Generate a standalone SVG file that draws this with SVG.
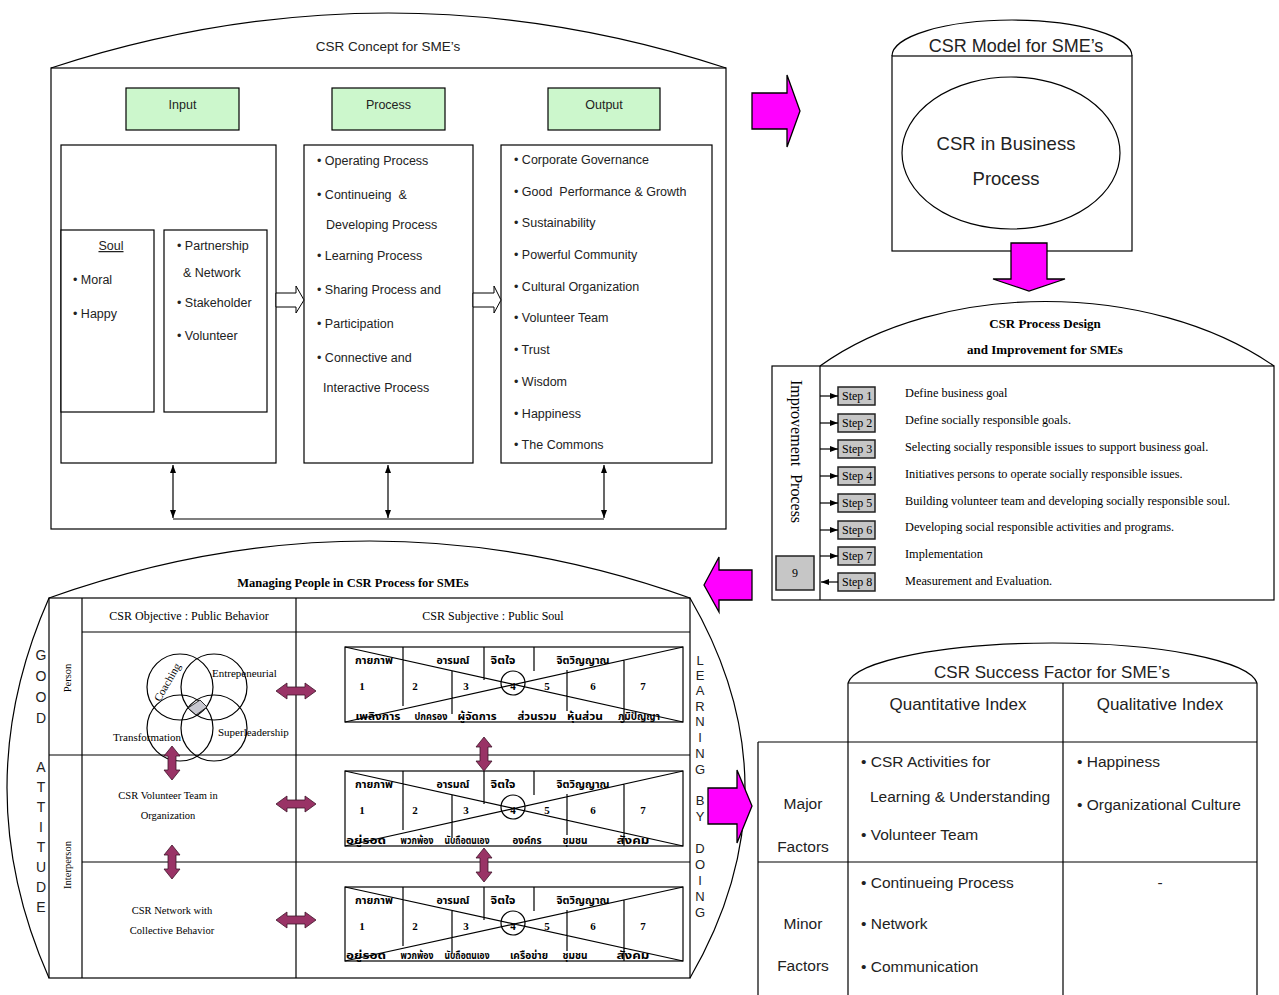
<svg xmlns="http://www.w3.org/2000/svg" width="1279" height="995" viewBox="0 0 1279 995">
<style>
.ln{fill:none;stroke:#000;stroke-width:1.2}
.bx{fill:#fff;stroke:#000;stroke-width:1.2}
.gr{fill:#ccf7cc;stroke:#000;stroke-width:1.2}
.sa{font-family:"Liberation Sans",Arial,sans-serif;fill:#222;white-space:pre}
.se{font-family:"Liberation Serif","Times New Roman",serif;fill:#000;white-space:pre}
.sb{font-family:"Liberation Serif","Times New Roman",serif;font-weight:bold;fill:#000}
.th{font-family:"Noto Sans Thai","Noto Serif Thai","Loma","Garuda","Liberation Serif",serif;font-weight:bold;font-size:11px;fill:#000;text-anchor:middle}
.tn{font-family:"Noto Sans Thai","Noto Serif Thai","Loma","Garuda","Liberation Serif",serif;font-weight:bold;font-size:10.5px;fill:#000;text-anchor:middle}
.nm{font-family:"Liberation Serif","Times New Roman",serif;font-weight:bold;font-size:11px;text-anchor:middle}
.pink{fill:#ff00ff;stroke:#000;stroke-width:1.3}
.pur{fill:#993366;stroke:#3d1428;stroke-width:0.8}
.step{fill:#c6c6c6;stroke:#222;stroke-width:1.5}
.mid{text-anchor:middle}
</style>
<defs>
<marker id="ah" viewBox="0 0 8 6" refX="8" refY="3" markerWidth="8" markerHeight="6" markerUnits="userSpaceOnUse" orient="auto-start-reverse"><path d="M0,0 L8,3 L0,6 Z" fill="#000"/></marker>
<path id="dblh" d="M-20,0 L-9,-8 L-9,-4 L9,-4 L9,-8 L20,0 L9,8 L9,4 L-9,4 L-9,8 Z"/>
<path id="dblv" d="M0,-17 L-8,-7 L-4,-7 L-4,7 L-8,7 L0,17 L8,7 L4,7 L4,-7 L8,-7 Z"/>
</defs>
<rect x="0" y="0" width="1279" height="995" fill="#fff"/>

<!-- CSR Concept panel -->
<g id="csr-concept">
<path class="ln" d="M51,68 Q388,-42 726,68"/>
<rect class="ln" x="51" y="68" width="675" height="461"/>
<text class="sa mid" x="388" y="51" font-size="13.5">CSR Concept for SME’s</text>
</g>
<g id="input-head"><rect class="gr" x="126" y="88" width="113" height="42"/><text class="sa mid" x="182.5" y="109" font-size="12.5">Input</text></g>
<g id="process-head"><rect class="gr" x="332" y="88" width="113" height="42"/><text class="sa mid" x="388.5" y="109" font-size="12.5">Process</text></g>
<g id="output-head"><rect class="gr" x="548" y="88" width="112" height="42"/><text class="sa mid" x="604" y="109" font-size="12.5">Output</text></g>
<g id="input-box">
<rect class="bx" x="61" y="145" width="215" height="318"/>
<rect class="bx" x="61" y="230" width="93" height="182"/>
<rect class="bx" x="164" y="230" width="103" height="182"/>
<text class="sa mid" x="111" y="250" font-size="12.5" text-decoration="underline">Soul</text>
<text class="sa" x="73" y="284" font-size="12.5">• Moral</text>
<text class="sa" x="73" y="318" font-size="12.5">• Happy</text>
<text class="sa" x="177" y="250" font-size="12.5">• Partnership</text>
<text class="sa" x="183" y="277" font-size="12.5">&amp; Network</text>
<text class="sa" x="177" y="307" font-size="12.5">• Stakeholder</text>
<text class="sa" x="177" y="340" font-size="12.5">• Volunteer</text>
</g>
<g id="process-box">
<rect class="bx" x="304" y="145" width="169" height="318"/>
<text class="sa" x="317" y="165" font-size="12.5">• Operating Process</text>
<text class="sa" x="317" y="199" font-size="12.5">• Continueing  &amp;</text>
<text class="sa" x="326" y="229" font-size="12.5">Developing Process</text>
<text class="sa" x="317" y="260" font-size="12.5">• Learning Process</text>
<text class="sa" x="317" y="294" font-size="12.5">• Sharing Process and</text>
<text class="sa" x="317" y="328" font-size="12.5">• Participation</text>
<text class="sa" x="317" y="362" font-size="12.5">• Connective and</text>
<text class="sa" x="323" y="392" font-size="12.5">Interactive Process</text>
</g>
<g id="output-box">
<rect class="bx" x="501" y="145" width="211" height="318"/>
<text class="sa" x="514" y="164" font-size="12.5">• Corporate Governance</text>
<text class="sa" x="514" y="196" font-size="12.5">• Good  Performance &amp; Growth</text>
<text class="sa" x="514" y="227" font-size="12.5">• Sustainability</text>
<text class="sa" x="514" y="259" font-size="12.5">• Powerful Community</text>
<text class="sa" x="514" y="291" font-size="12.5">• Cultural Organization</text>
<text class="sa" x="514" y="322" font-size="12.5">• Volunteer Team</text>
<text class="sa" x="514" y="354" font-size="12.5">• Trust</text>
<text class="sa" x="514" y="386" font-size="12.5">• Wisdom</text>
<text class="sa" x="514" y="418" font-size="12.5">• Happiness</text>
<text class="sa" x="514" y="449" font-size="12.5">• The Commons</text>
</g>

<!-- CSR Model -->
<g id="csr-model">
<path class="ln" d="M892,56 A120,36 0 0 1 1132,56"/>
<rect class="ln" x="892" y="56" width="240" height="195"/>
<text class="sa mid" x="1016" y="52" font-size="18">CSR Model for SME’s</text>
<ellipse class="ln" cx="1011" cy="153" rx="109" ry="76"/>
<text class="sa mid" x="1006" y="150" font-size="18.5" fill="#000">CSR in Business</text>
<text class="sa mid" x="1006" y="185" font-size="18.5" fill="#000">Process</text>
</g>

<!-- CSR Process Design -->
<g id="process-design">
<path class="ln" d="M820,366 C940,280 1150,280 1274,366"/>
<rect class="ln" x="772" y="366" width="502" height="234"/>
<line class="ln" x1="820" y1="366" x2="820" y2="600"/>
<text class="sb mid" x="1045" y="328" font-size="13">CSR Process Design</text>
<text class="sb mid" x="1045" y="354" font-size="13">and Improvement for SMEs</text>
<text class="se" transform="translate(791,380) rotate(90)" font-size="16">Improvement  Process</text>
<rect class="step" x="776" y="556" width="38" height="34"/>
<text class="se mid" x="795" y="577" font-size="12">9</text>
</g>
<g id="step1"><rect class="step" x="838" y="387" width="37" height="18"/><text class="se" x="842" y="400" font-size="12">Step 1</text><text class="se" x="905" y="397" font-size="12.3">Define business goal</text></g>
<g id="step2"><rect class="step" x="838" y="414" width="37" height="18"/><text class="se" x="842" y="427" font-size="12">Step 2</text><text class="se" x="905" y="424" font-size="12.3">Define socially responsible goals.</text></g>
<g id="step3"><rect class="step" x="838" y="440" width="37" height="18"/><text class="se" x="842" y="453" font-size="12">Step 3</text><text class="se" x="905" y="451" font-size="12.3">Selecting socially responsible issues to support business goal.</text></g>
<g id="step4"><rect class="step" x="838" y="467" width="37" height="18"/><text class="se" x="842" y="480" font-size="12">Step 4</text><text class="se" x="905" y="478" font-size="12.3">Initiatives persons to operate socially responsible issues.</text></g>
<g id="step5"><rect class="step" x="838" y="494" width="37" height="18"/><text class="se" x="842" y="507" font-size="12">Step 5</text><text class="se" x="905" y="505" font-size="12.3">Building volunteer team and developing socially responsible soul.</text></g>
<g id="step6"><rect class="step" x="838" y="521" width="37" height="18"/><text class="se" x="842" y="534" font-size="12">Step 6</text><text class="se" x="905" y="531" font-size="12.3">Developing social responsible activities and programs.</text></g>
<g id="step7"><rect class="step" x="838" y="547" width="37" height="18"/><text class="se" x="842" y="560" font-size="12">Step 7</text><text class="se" x="905" y="558" font-size="12.3">Implementation</text></g>
<g id="step8"><rect class="step" x="838" y="573" width="37" height="18"/><text class="se" x="842" y="586" font-size="12">Step 8</text><text class="se" x="905" y="585" font-size="12.3">Measurement and Evaluation.</text></g>

<!-- Managing People -->
<g id="managing-people">
<path class="ln" d="M49,598 Q370,484 690,598"/>
<path class="ln" d="M49,598 Q-35,788 49,978"/>
<path class="ln" d="M690,598 Q800,788 690,978"/>
<rect class="ln" x="49" y="598" width="641" height="380"/>
<line class="ln" x1="82" y1="598" x2="82" y2="978"/>
<line class="ln" x1="296" y1="598" x2="296" y2="978"/>
<line class="ln" x1="82" y1="632" x2="690" y2="632"/>
<line class="ln" x1="49" y1="755" x2="690" y2="755"/>
<line class="ln" x1="82" y1="862" x2="690" y2="862"/>
<text class="sb mid" x="353" y="587" font-size="12.5">Managing People in CSR Process for SMEs</text>
<text class="se mid" x="189" y="620" font-size="12">CSR Objective : Public Behavior</text>
<text class="se mid" x="493" y="620" font-size="12">CSR Subjective : Public Soul</text>
<text class="se mid" transform="translate(71,678) rotate(-90)" font-size="10.5">Person</text>
<text class="se mid" transform="translate(71,865) rotate(-90)" font-size="10.5">Interperson</text>
<g class="sa mid" font-size="14" fill="#444">
<text x="41" y="660">G</text><text x="41" y="681">O</text><text x="41" y="702">O</text><text x="41" y="723">D</text>
<text x="41" y="772">A</text><text x="41" y="792">T</text><text x="41" y="812">T</text><text x="41" y="832">I</text><text x="41" y="852">T</text><text x="41" y="872">U</text><text x="41" y="892">D</text><text x="41" y="912">E</text>
</g>
<g class="sa mid" font-size="13" fill="#444">
<text x="700" y="665">L</text><text x="700" y="680">E</text><text x="700" y="695">A</text><text x="700" y="711">R</text><text x="700" y="726">N</text><text x="700" y="742">I</text><text x="700" y="758">N</text><text x="700" y="774">G</text>
<text x="700" y="805">B</text><text x="700" y="821">Y</text>
<text x="700" y="853">D</text><text x="700" y="869">O</text><text x="700" y="885">I</text><text x="700" y="901">N</text><text x="700" y="917">G</text>
</g>
</g>
<g id="venn">
<circle class="ln" cx="180" cy="687" r="33"/>
<circle class="ln" cx="214" cy="687" r="33"/>
<circle class="ln" cx="180" cy="728" r="33"/>
<circle class="ln" cx="214" cy="728" r="33"/>
<polygon points="188,708 200,700 207,707 196,715" fill="#c8c8d0" stroke="#000" stroke-width="0.8"/>
<text class="se" x="212" y="677" font-size="11">Entrepeneurial</text>
<text class="se" x="218" y="736" font-size="11">Superleadership</text>
<text class="se" x="113" y="741" font-size="11">Transformation</text>
<text class="se mid" transform="translate(167,682) rotate(-60)" y="4" font-size="11">Coaching</text>
</g>
<g id="volunteer-team">
<text class="se mid" x="168" y="799" font-size="10.5">CSR Volunteer Team in</text>
<text class="se mid" x="168" y="819" font-size="10.5">Organization</text>
</g>
<g id="network">
<text class="se mid" x="172" y="914" font-size="10.5">CSR Network with</text>
<text class="se mid" x="172" y="934" font-size="10.5">Collective Behavior</text>
</g>

<g id="table1" transform="translate(345,647)">
<rect class="ln" x="0" y="0" width="338" height="75"/>
<path class="ln" d="M0,0 L338,75 M0,75 L338,0 M58,0 V59 M107,24 V67 M139,0 V33 M189,0 V24 M222,23 V64 M279,13 V75"/>
<circle class="ln" cx="168" cy="36" r="12"/>
<text class="th" x="29" y="17" textLength="38" lengthAdjust="spacingAndGlyphs">กายภาพ</text><text class="th" x="108" y="17" textLength="33" lengthAdjust="spacingAndGlyphs">อารมณ์</text><text class="th" x="158" y="17" textLength="25" lengthAdjust="spacingAndGlyphs">จิตใจ</text><text class="th" x="238" y="17" textLength="53" lengthAdjust="spacingAndGlyphs">จิตวิญญาณ</text>
<text class="nm" x="17" y="43">1</text><text class="nm" x="70" y="43">2</text><text class="nm" x="121" y="43">3</text><text class="nm" x="168" y="43">4</text><text class="nm" x="202" y="43">5</text><text class="nm" x="248" y="43">6</text><text class="nm" x="298" y="43">7</text>
<text class="tn" x="33" y="73" textLength="45" lengthAdjust="spacingAndGlyphs">เพลิงการ</text><text class="tn" x="86" y="73" textLength="33" lengthAdjust="spacingAndGlyphs">ปกครอง</text><text class="tn" x="132" y="73" textLength="39" lengthAdjust="spacingAndGlyphs">ผู้จัดการ</text><text class="tn" x="192" y="73" textLength="39" lengthAdjust="spacingAndGlyphs">ส่วนรวม</text><text class="tn" x="240" y="73" textLength="36" lengthAdjust="spacingAndGlyphs">หุ้นส่วน</text><text class="tn" x="294" y="73" textLength="42" lengthAdjust="spacingAndGlyphs">ภูมิปัญญา</text>
</g>
<g id="table2" transform="translate(345,771)">
<rect class="ln" x="0" y="0" width="338" height="75"/>
<path class="ln" d="M0,0 L338,75 M0,75 L338,0 M58,0 V59 M107,24 V67 M139,0 V33 M189,0 V24 M222,23 V64 M279,13 V75"/>
<circle class="ln" cx="168" cy="36" r="12"/>
<text class="th" x="29" y="17" textLength="38" lengthAdjust="spacingAndGlyphs">กายภาพ</text><text class="th" x="108" y="17" textLength="33" lengthAdjust="spacingAndGlyphs">อารมณ์</text><text class="th" x="158" y="17" textLength="25" lengthAdjust="spacingAndGlyphs">จิตใจ</text><text class="th" x="238" y="17" textLength="53" lengthAdjust="spacingAndGlyphs">จิตวิญญาณ</text>
<text class="nm" x="17" y="43">1</text><text class="nm" x="70" y="43">2</text><text class="nm" x="121" y="43">3</text><text class="nm" x="168" y="43">4</text><text class="nm" x="202" y="43">5</text><text class="nm" x="248" y="43">6</text><text class="nm" x="298" y="43">7</text>
<text class="tn" x="21" y="73" textLength="40" lengthAdjust="spacingAndGlyphs">อยู่รอด</text><text class="tn" x="72" y="73" textLength="33" lengthAdjust="spacingAndGlyphs">พวกพ้อง</text><text class="tn" x="122" y="73" textLength="45" lengthAdjust="spacingAndGlyphs">นับถือตนเอง</text><text class="tn" x="182" y="73" textLength="29" lengthAdjust="spacingAndGlyphs">องค์กร</text><text class="tn" x="230" y="73" textLength="25" lengthAdjust="spacingAndGlyphs">ชุมชน</text><text class="tn" x="288" y="73" textLength="33" lengthAdjust="spacingAndGlyphs">สังคม</text>
</g>
<g id="table3" transform="translate(345,887)">
<rect class="ln" x="0" y="0" width="338" height="74"/>
<path class="ln" d="M0,0 L338,74 M0,74 L338,0 M58,0 V59 M107,24 V67 M139,0 V33 M189,0 V24 M222,23 V64 M279,13 V74"/>
<circle class="ln" cx="168" cy="36" r="12"/>
<text class="th" x="29" y="17" textLength="38" lengthAdjust="spacingAndGlyphs">กายภาพ</text><text class="th" x="108" y="17" textLength="33" lengthAdjust="spacingAndGlyphs">อารมณ์</text><text class="th" x="158" y="17" textLength="25" lengthAdjust="spacingAndGlyphs">จิตใจ</text><text class="th" x="238" y="17" textLength="53" lengthAdjust="spacingAndGlyphs">จิตวิญญาณ</text>
<text class="nm" x="17" y="43">1</text><text class="nm" x="70" y="43">2</text><text class="nm" x="121" y="43">3</text><text class="nm" x="168" y="43">4</text><text class="nm" x="202" y="43">5</text><text class="nm" x="248" y="43">6</text><text class="nm" x="298" y="43">7</text>
<text class="tn" x="21" y="72" textLength="40" lengthAdjust="spacingAndGlyphs">อยู่รอด</text><text class="tn" x="72" y="72" textLength="33" lengthAdjust="spacingAndGlyphs">พวกพ้อง</text><text class="tn" x="122" y="72" textLength="45" lengthAdjust="spacingAndGlyphs">นับถือตนเอง</text><text class="tn" x="184" y="72" textLength="38" lengthAdjust="spacingAndGlyphs">เครือข่าย</text><text class="tn" x="230" y="72" textLength="25" lengthAdjust="spacingAndGlyphs">ชุมชน</text><text class="tn" x="288" y="72" textLength="33" lengthAdjust="spacingAndGlyphs">สังคม</text>
</g>

<!-- CSR Success Factor -->
<g id="success-factor">
<path class="ln" d="M848,683 A205,43 0 0 1 1257,683"/>
<path class="ln" d="M848,683 H1257 M848,683 V995 M1063,683 V995 M1257,683 V995 M758,742 H1257 M758,742 V995 M758,862 H1257"/>
<g class="sa" fill="#333">
<text class="mid" x="1052" y="678" font-size="17">CSR Success Factor for SME’s</text>
<text class="mid" x="958" y="710" font-size="17">Quantitative Index</text>
<text class="mid" x="1160" y="710" font-size="17">Qualitative Index</text>
<text class="mid" x="803" y="809" font-size="15.5">Major</text>
<text class="mid" x="803" y="852" font-size="15.5">Factors</text>
<text class="mid" x="803" y="929" font-size="15.5">Minor</text>
<text class="mid" x="803" y="971" font-size="15.5">Factors</text>
<text x="861" y="767" font-size="15.5">• CSR Activities for</text>
<text x="870" y="802" font-size="15.5">Learning &amp;  Understanding</text>
<text x="861" y="840" font-size="15.5">• Volunteer Team</text>
<text x="861" y="888" font-size="15.5">• Continueing Process</text>
<text x="861" y="929" font-size="15.5">• Network</text>
<text x="861" y="972" font-size="15.5">• Communication</text>
<text x="1077" y="767" font-size="15.5">• Happiness</text>
<text x="1077" y="810" font-size="15.5">• Organizational Culture</text>
<text class="mid" x="1160" y="888" font-size="15.5">-</text>
</g>
</g>

<!-- connectors -->
<g id="connectors">
<path d="M276,293 L296,293 L296,286 L304,300 L296,313 L296,307 L276,307 Z" fill="#fff" stroke="#000" stroke-width="1"/>
<path d="M473,293 L494,293 L494,286 L501,300 L494,313 L494,307 L473,307 Z" fill="#fff" stroke="#000" stroke-width="1"/>
<line class="ln" x1="173" y1="465" x2="173" y2="518" marker-start="url(#ah)" marker-end="url(#ah)"/>
<line class="ln" x1="388" y1="465" x2="388" y2="518" marker-start="url(#ah)" marker-end="url(#ah)"/>
<line class="ln" x1="604" y1="465" x2="604" y2="518" marker-start="url(#ah)" marker-end="url(#ah)"/>
<line class="ln" x1="173" y1="519" x2="604" y2="519"/>
<path class="pink" d="M752,93 L787,93 L787,75 L800,111 L787,147 L787,129 L752,129 Z"/>
<path class="pink" d="M1011,243 L1047,243 L1047,279 L1065,279 L1029,291 L993,279 L1011,279 Z"/>
<path class="pink" d="M704,585 L719,557 L719,570 L752,570 L752,600 L719,600 L719,612 Z"/>
<path class="pink" d="M708,788 L737,788 L737,770 L752,806 L737,843 L737,824 L708,824 Z"/>
<line class="ln" x1="820" y1="396" x2="838" y2="396" marker-end="url(#ah)"/>
<line class="ln" x1="820" y1="423" x2="838" y2="423" marker-end="url(#ah)"/>
<line class="ln" x1="820" y1="449" x2="838" y2="449" marker-end="url(#ah)"/>
<line class="ln" x1="820" y1="476" x2="838" y2="476" marker-end="url(#ah)"/>
<line class="ln" x1="820" y1="503" x2="838" y2="503" marker-end="url(#ah)"/>
<line class="ln" x1="820" y1="530" x2="838" y2="530" marker-end="url(#ah)"/>
<line class="ln" x1="820" y1="556" x2="838" y2="556" marker-end="url(#ah)"/>
<line class="ln" x1="838" y1="582" x2="821" y2="582" marker-end="url(#ah)"/>
<use href="#dblh" class="pur" transform="translate(296,691)"/>
<use href="#dblh" class="pur" transform="translate(296,804)"/>
<use href="#dblh" class="pur" transform="translate(296,920)"/>
<use href="#dblv" class="pur" transform="translate(172,763)"/>
<use href="#dblv" class="pur" transform="translate(172,862)"/>
<use href="#dblv" class="pur" transform="translate(484,754)"/>
<use href="#dblv" class="pur" transform="translate(484,865)"/>
</g>
</svg>
